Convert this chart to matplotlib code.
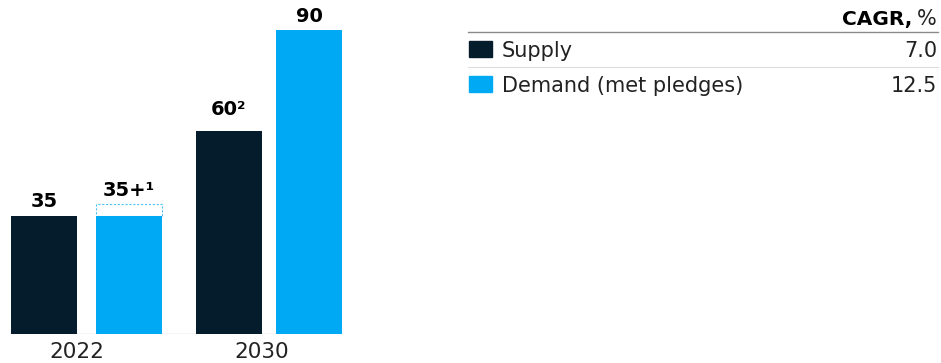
import matplotlib
matplotlib.use("Agg")
import matplotlib.pyplot as plt
from matplotlib.patches import Rectangle

plt.rcParams['font.family'] = ['DejaVu Sans']

years = ["2022", "2030"]
series = ["Supply", "Demand (met pledges)"]
supply = [35, 60]
demand = [35, 90]
demand_extra = [3.5, 0]
supply_labels = ["35", "60²"]
demand_labels = ["35+¹", "90"]
cagr = ["7.0", "12.5"]

NAVY = "#051C2C"
BLUE = "#00A9F4"

W, H = 941, 363
PX = 72 / 100  # points per pixel
fig = plt.figure(figsize=(W / 100, H / 100), dpi=100)
ax = fig.add_axes([0, 29 / H, 350 / W, 334 / H])
ax.set_xlim(0, 350)
ax.set_ylim(0, 334 / 3.38)
for s in ax.spines.values():
    s.set_visible(False)
ax.set_yticks([])

group_centers = [87, 269]
offsets = [(-43, 42), (-40, 40)]
label_gaps_s = [9, 16]
label_gaps_d = [8, 7.5]
bw = 66
for i in range(len(years)):
    xs = group_centers[i] + offsets[i][0]
    xd = group_centers[i] + offsets[i][1]
    ax.bar(xs, supply[i], width=bw, color=NAVY)
    ax.bar(xd, demand[i], width=bw, color=BLUE)
    if demand_extra[i] > 0:
        ax.add_patch(Rectangle((xd - bw / 2, demand[i]), bw, demand_extra[i],
                               fill=False, edgecolor=BLUE, linestyle=(0, (2, 1.5)),
                               linewidth=0.8, alpha=0.7))
    ax.annotate(supply_labels[i], (xs, supply[i]), xytext=(0, label_gaps_s[i] * PX),
                textcoords="offset points", ha="center", va="baseline",
                fontsize=14, fontweight="bold", color="black")
    ax.annotate(demand_labels[i], (xd, demand[i] + demand_extra[i]),
                xytext=(0, label_gaps_d[i] * PX), textcoords="offset points",
                ha="center", va="baseline",
                fontsize=14, fontweight="bold", color="black")

ax.plot([11, 342], [0, 0], color="#c8c8c8", linewidth=1, zorder=0)

ax.set_xticks([77, 262])
ax.set_xticklabels(years, fontsize=15.5, color="#222222")
ax.tick_params(axis="x", length=0, pad=24 * PX)
for t in ax.get_xticklabels():
    t.set_verticalalignment("baseline")

# legend table
lg = fig.add_axes([0, 0, 1, 1])
lg.set_xlim(0, W)
lg.set_ylim(H, 0)
lg.axis("off")
lg.patch.set_alpha(0)

t_pct = lg.text(937, 25, "%", ha="right", va="baseline", fontsize=15, color="#222222")
t_cagr = lg.text(912, 25, "CAGR,", ha="right", va="baseline", fontsize=14.5,
                 fontweight="bold", color="black")

lg.plot([468, 938], [32, 32], color="#8a8a8a", linewidth=1)
lg.plot([468, 938], [67, 67], color="#dddddd", linewidth=0.8)

rows_y = [57, 92]
colors = [NAVY, BLUE]
for i, name in enumerate(series):
    lg.add_patch(Rectangle((469, rows_y[i] - 16), 23, 16, color=colors[i]))
    lg.text(502, rows_y[i], name, ha="left", va="baseline", fontsize=15, color="#222222")
    lg.text(937, rows_y[i], cagr[i], ha="right", va="baseline", fontsize=15, color="#222222")

fig.savefig("out.png", dpi=100)
